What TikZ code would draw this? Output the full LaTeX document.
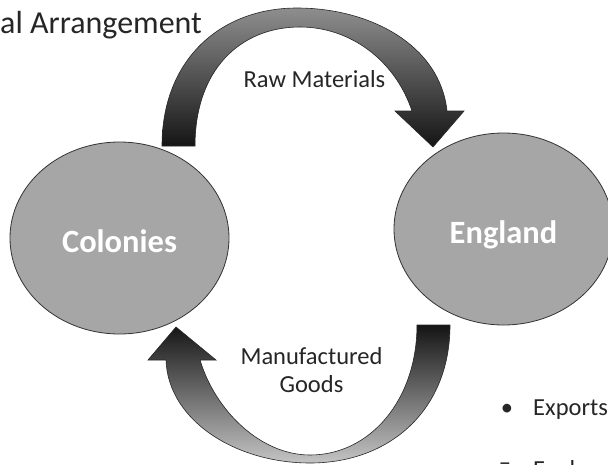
\documentclass[tikz,border=0pt]{standalone}
\usepackage{fontspec}
\setmainfont{Carlito}
\usepackage{tikz}
\usetikzlibrary{positioning, shapes.geometric}
\definecolor{ballgray}{HTML}{A6A6A6}
\definecolor{txtgray}{HTML}{262626}
\definecolor{arctop}{HTML}{8E8E8E}
\definecolor{arcbot}{HTML}{C4C4C4}

\begin{document}
\begin{tikzpicture}[x=1pt, y=-1pt,
  land/.style={ellipse, draw=black!80, line width=0.8pt, fill=ballgray,
    minimum width=219pt, minimum height=192pt, inner sep=0pt,
    text=white, font=\fontsize{32.5}{36}\selectfont\bfseries,
    text height=29pt, text depth=0pt},
  flow/.style={draw=black!85, line width=0.6pt},
  word/.style={text=txtgray, font=\fontsize{24.5}{28}\selectfont, inner sep=0pt}]
\useasboundingbox (0,0) rectangle (608,464);
\clip (0,0) rectangle (608,464);
\fill[white] (0,0) rectangle (608,464);

\node (COL) [land] at (119.5,238) {Colonies};
\node (ENG) [land] at (503.5,229) {England};

\path[flow, top color=arctop, bottom color=black!92]
  (162,146) .. controls (162,60) and (220,8) .. (297,8)
  .. controls (370,8) and (440,45) .. (447,111) -- (464,111) -- (433,147)
  -- (395,111) -- (412,111) .. controls (395,60) and (350,27) .. (300,27)
  .. controls (240,27) and (195,70) .. (195,146) -- cycle;
\path[flow, top color=black!92, bottom color=arcbot]
  (417,325) -- (450,325) .. controls (450,410) and (390,463) .. (310,463)
  .. controls (235,463) and (168,420) .. (166,360) -- (148,360) -- (176,327)
  -- (216,360) -- (200,360) .. controls (215,410) and (260,455) .. (310,455)
  .. controls (370,455) and (417,400) .. (417,325) -- cycle;

\node (TTL) [word, anchor=base west, font=\fontsize{32}{36}\selectfont] at (0,33) {al Arrangement};
\node (RAW) [word, anchor=base] at (314.5,87) {Raw Materials};
\node (MFG) [word, anchor=base, align=center] at (311.5,392) {Manufactured\\Goods};
\node (BUL) [word, anchor=base] at (507,415) {•};
\node (EXP) [word, anchor=base west] at (533,415) {Exports};
\node (DSH) [word, anchor=base] at (505,470) {–};
\node (ENL) [word, anchor=base west] at (533,477) {England};
\end{tikzpicture}
\end{document}
